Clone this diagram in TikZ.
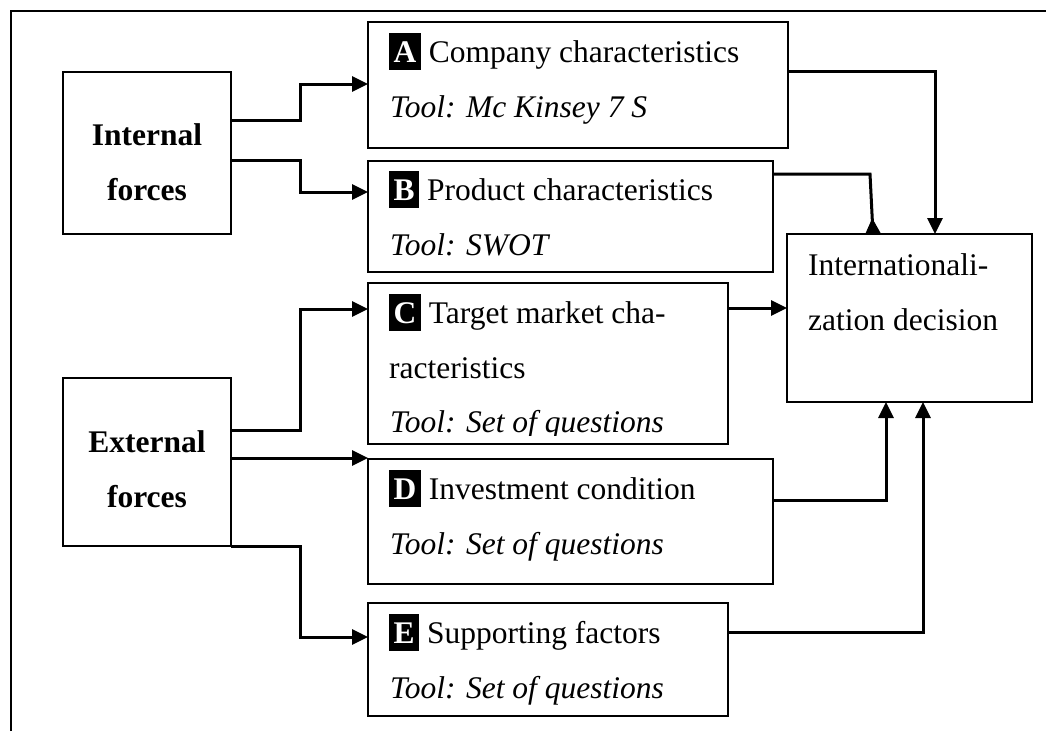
\documentclass[tikz,border=0pt]{standalone}
\usepackage{fontspec}
\setmainfont{Liberation Serif}
\usetikzlibrary{arrows.meta}

% white bold letter on a black block, as used in front of each factor title
\newcommand\lettermark[1]{%
  \begingroup\setbox0\hbox{\bfseries #1}%
  \rlap{\rule[-8pt]{\dimexpr\wd0+9pt\relax}{37pt}}%
  \hbox to \dimexpr\wd0+9pt\relax{\hss\textcolor{white}{\bfseries #1}\hss}%
  \endgroup}

\tikzset{
  frameline/.style={line width=2.2pt},
  box/.style={draw, rectangle, line width=2.4pt, inner sep=0pt, outer sep=0pt},
  conn/.style={line width=3pt, -{Triangle[length=16pt,width=15pt]}},
  connrev/.style={line width=3pt, -{Triangle[reversed,length=16pt,width=15pt]}},
  txt/.style={anchor=base west, inner sep=0pt, font=\fontsize{31.5}{55}\selectfont},
  head/.style={anchor=base, inner sep=0pt, font=\fontsize{31.5}{55}\selectfont\bfseries},
}

\begin{document}
\begin{tikzpicture}[x=1pt, y=-1pt]
\useasboundingbox (0,0) rectangle (1046,731);

% surrounding frame (open at right and bottom)
\draw[frameline] (11,731) -- (11,11) -- (1046,11);

% boxes
\node[box, minimum width=168pt, minimum height=162pt] (int) at (147,153) {};
\node[box, minimum width=168pt, minimum height=168pt] (ext) at (147,462) {};
\node[box, minimum width=420pt, minimum height=126pt] (A) at (578,85) {};
\node[box, minimum width=405pt, minimum height=111pt] (B) at (570.5,216.5) {};
\node[box, minimum width=360pt, minimum height=161pt] (C) at (548,363.5) {};
\node[box, minimum width=405pt, minimum height=125pt] (D) at (570.5,521.5) {};
\node[box, minimum width=360pt, minimum height=113pt] (E) at (548,659.5) {};
\node[box, minimum width=245pt, minimum height=168pt] (dec) at (909.5,318) {};

% force labels
\node[head] (int1) at (147,145) {Internal};
\node[head] (int2) at (147,200) {forces};
\node[head] (ext1) at (147,452) {External};
\node[head] (ext2) at (147,507) {forces};

% factor texts
\node[txt] (At) at (389,62) {\lettermark{A} Company characteristics};
\node[txt] (Atool) at (390,117) {\itshape Tool: Mc Kinsey 7 S};
\node[txt] (Bt) at (389,200) {\lettermark{B} Product characteristics};
\node[txt] (Btool) at (390,255) {\itshape Tool: SWOT};
\node[txt] (Ct) at (389,323) {\lettermark{C} Target market cha-};
\node[txt] (Ct2) at (389,378) {racteristics};
\begin{scope}
  \clip (368,283) rectangle (728,435);
  \node[txt] (Ctool) at (390,432) {\itshape Tool: Set of questions};
\end{scope}
\node[txt] (Dt) at (389,499) {\lettermark{D} Investment condition};
\node[txt] (Dtool) at (390,554) {\itshape Tool: Set of questions};
\node[txt] (Et) at (389,643) {\lettermark{E} Supporting factors};
\node[txt] (Etool) at (390,698) {\itshape Tool: Set of questions};
\node[txt] (dec1) at (808,275) {Internationali-};
\node[txt] (dec2) at (808,330) {zation decision};

% forces to factors
\draw[conn] (int.east |- 0,120) -- (300,120) |- (A.west |- 0,84);
\draw[conn] (int.east |- 0,160) -- (300,160) |- (B.west |- 0,192);
\draw[conn] (ext.east |- 0,430) -- (300,430) |- (C.west |- 0,309);
\draw[conn] (ext.east |- 0,458) -- (D.west |- 0,458);
\draw[conn] (ext.south east) -- (300,546) |- (E.west |- 0,637);

% factors to the decision
\draw[conn] (A.east |- 0,71) -| (dec.north -| 935,0);
\draw[connrev] (B.east |- 0,174) -- (870,174) -- (dec.north -| 873,0);
\draw[conn] (C.east |- 0,308) -- (dec.west |- 0,308);
\draw[conn] (D.east |- 0,500) -| (dec.south -| 886,0);
\draw[conn] (E.east |- 0,632) -| (dec.south -| 923,0);
\end{tikzpicture}
\end{document}
